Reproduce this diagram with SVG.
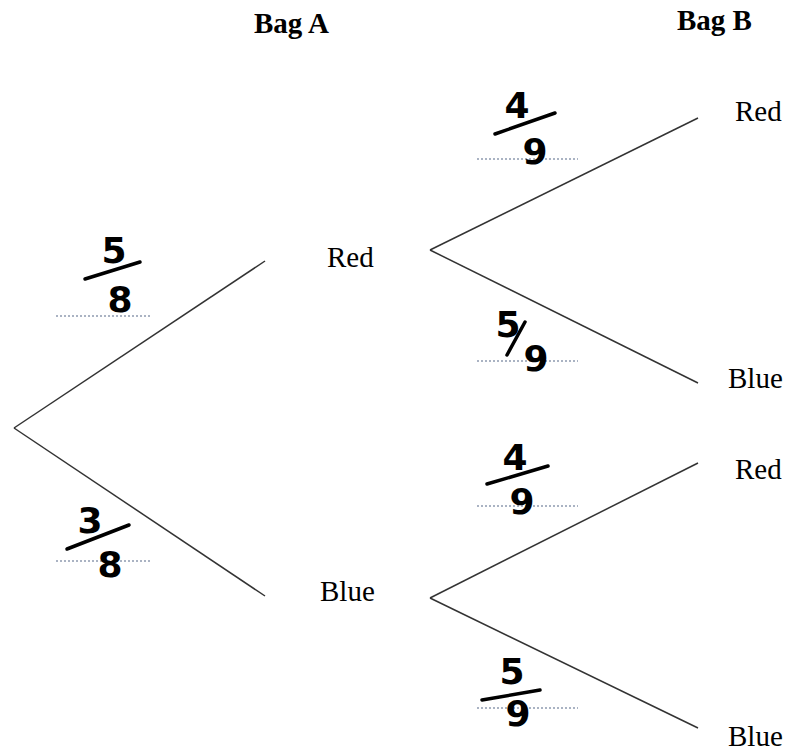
<svg xmlns="http://www.w3.org/2000/svg" width="791" height="751" viewBox="0 0 791 751">
<style>
.br{stroke:#333;stroke-width:1.5;fill:none}
.lbl{font-family:"Liberation Serif","Times New Roman",serif;font-size:29px;fill:#000}
.hd{font-family:"Liberation Serif","Times New Roman",serif;font-size:29px;font-weight:bold;fill:#000}
.dig{font-family:"DejaVu Sans","Liberation Sans",sans-serif;font-size:36px;font-weight:bold;fill:#000;text-anchor:middle}
.bar{stroke:#000;stroke-width:3.5;stroke-linecap:round;fill:none}
.dot{stroke:#8f9bb0;stroke-width:1.5;stroke-dasharray:2 2;fill:none}
</style>
<rect width="791" height="751" fill="#fff"/>
<g id="headers">
<text class="hd" x="254" y="33">Bag A</text>
<text class="hd" x="677" y="30">Bag B</text>
</g>
<g id="connectors">
<line class="br" x1="14" y1="428" x2="265" y2="261"/>
<line class="br" x1="14" y1="428" x2="265" y2="596"/>
<line class="br" x1="430" y1="250" x2="698" y2="118"/>
<line class="br" x1="430" y1="250" x2="698" y2="383"/>
<line class="br" x1="430" y1="598" x2="698" y2="463"/>
<line class="br" x1="430" y1="598" x2="698" y2="728"/>
</g>
<g id="nodeA-red"><text class="lbl" x="327" y="267">Red</text></g>
<g id="nodeA-blue"><text class="lbl" x="320" y="601">Blue</text></g>
<g id="nodeB-red1"><text class="lbl" x="735" y="121">Red</text></g>
<g id="nodeB-blue1"><text class="lbl" x="728" y="388">Blue</text></g>
<g id="nodeB-red2"><text class="lbl" x="735" y="479">Red</text></g>
<g id="nodeB-blue2"><text class="lbl" x="728" y="746">Blue</text></g>
<g id="prob-5-8">
<line class="dot" x1="56" y1="316" x2="152" y2="316"/>
<text class="dig" x="114" y="263">5</text>
<line class="bar" x1="85" y1="279" x2="140" y2="262"/>
<text class="dig" x="120" y="312">8</text>
</g>
<g id="prob-3-8">
<line class="dot" x1="56" y1="561" x2="152" y2="561"/>
<text class="dig" x="90" y="533">3</text>
<line class="bar" x1="67" y1="549" x2="129" y2="525"/>
<text class="dig" x="110" y="577">8</text>
</g>
<g id="prob-4-9a">
<line class="dot" x1="477" y1="159" x2="578" y2="159"/>
<text class="dig" x="517" y="118">4</text>
<line class="bar" x1="495" y1="134" x2="555" y2="113"/>
<text class="dig" x="535" y="164">9</text>
</g>
<g id="prob-5-9a">
<line class="dot" x1="477" y1="361" x2="578" y2="361"/>
<text class="dig" x="508" y="337">5</text>
<line class="bar" x1="507" y1="355" x2="525" y2="322"/>
<text class="dig" x="536" y="371">9</text>
</g>
<g id="prob-4-9b">
<line class="dot" x1="477" y1="506" x2="578" y2="506"/>
<text class="dig" x="515" y="470">4</text>
<line class="bar" x1="487" y1="484" x2="548" y2="466"/>
<text class="dig" x="522" y="514">9</text>
</g>
<g id="prob-5-9b">
<line class="dot" x1="477" y1="708" x2="578" y2="708"/>
<text class="dig" x="512" y="684">5</text>
<line class="bar" x1="482" y1="700" x2="540" y2="690"/>
<text class="dig" x="518" y="726">9</text>
</g>
</svg>
